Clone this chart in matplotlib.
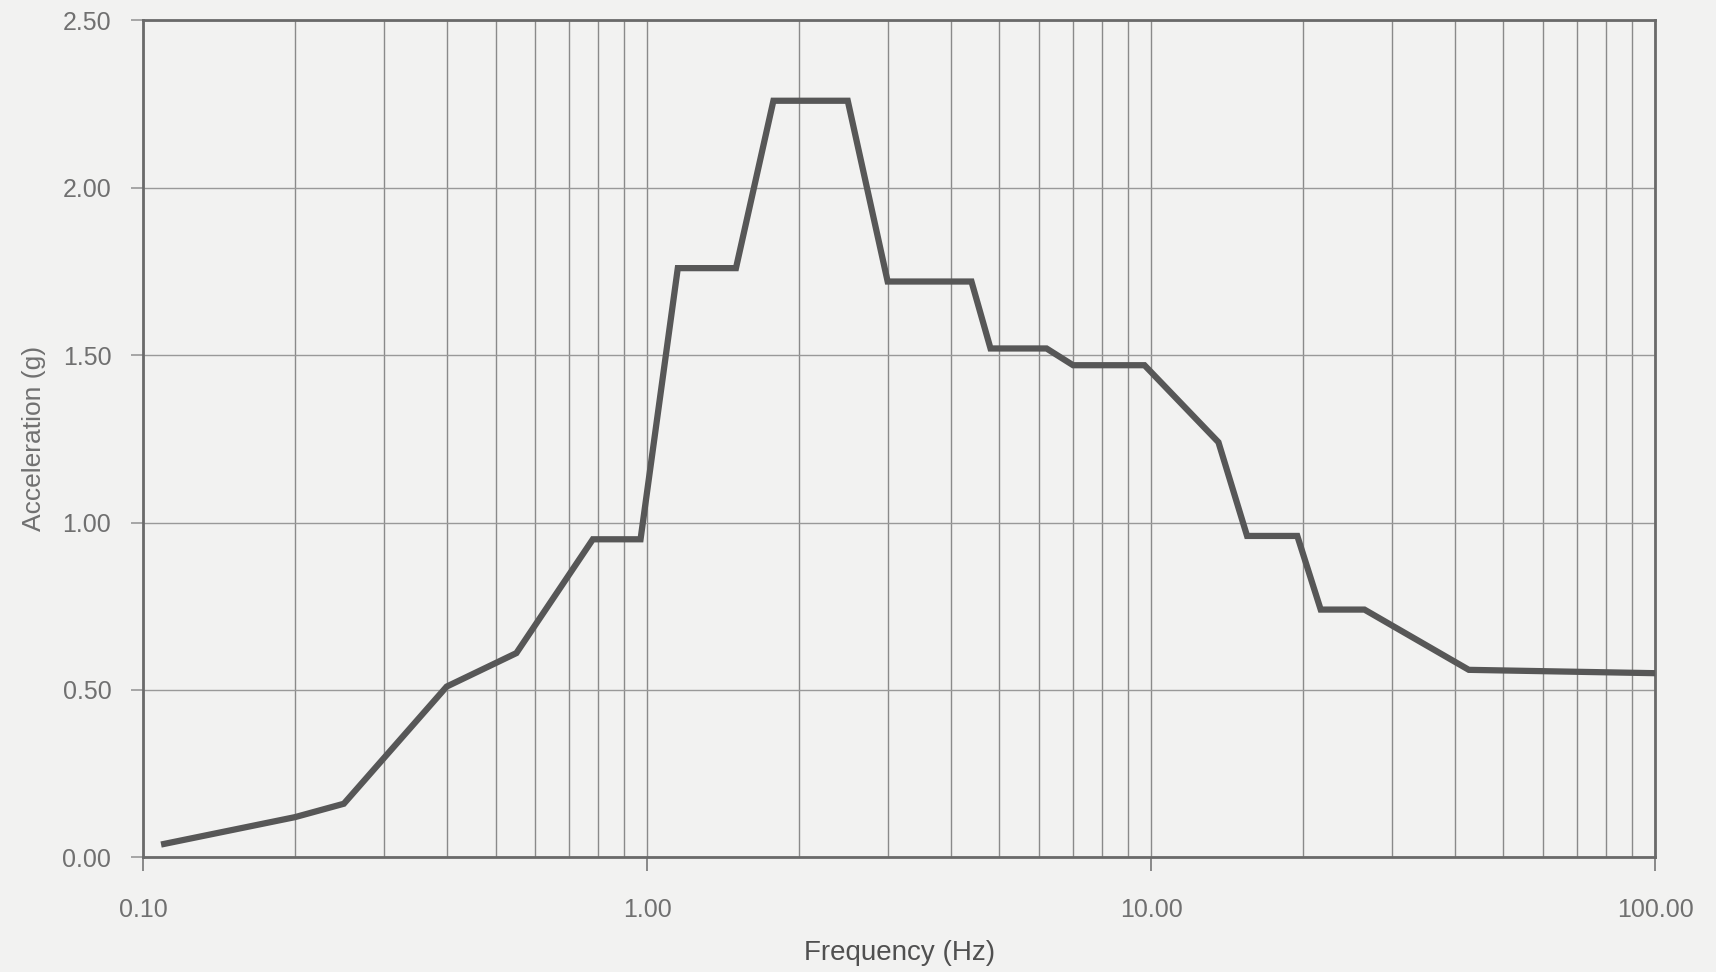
import matplotlib.pyplot as plt
from matplotlib.ticker import FixedLocator, NullFormatter

# spectrum breakpoints
freq = [0.11, 0.20, 0.25, 0.40, 0.55, 0.78, 0.97, 1.15, 1.50, 1.78, 2.50,
        3.00, 4.40, 4.80, 6.20, 7.00, 9.70, 13.6, 15.5, 19.5, 21.7, 26.5,
        42.7, 100.0]
accel = [0.04, 0.12, 0.16, 0.51, 0.61, 0.95, 0.95, 1.76, 1.76, 2.26, 2.26,
         1.72, 1.72, 1.52, 1.52, 1.47, 1.47, 1.24, 0.96, 0.96, 0.74, 0.74,
         0.56, 0.55]

x_major = [0.1, 1.0, 10.0, 100.0]
x_labels = ['0.10', '1.00', '10.00', '100.00']
y_major = [0.0, 0.5, 1.0, 1.5, 2.0, 2.5]
y_labels = ['0.00', '0.50', '1.00', '1.50', '2.00', '2.50']

bg = '#f2f2f1'
txt = '#707070'

plt.rcParams['font.family'] = ['Liberation Sans', 'DejaVu Sans']

fig = plt.figure(figsize=(17.16, 9.72), dpi=100, facecolor=bg)
ax = fig.add_axes([0.0835, 0.118, 0.881, 0.861], facecolor=bg)

ax.plot(freq, accel, color='#575757', lw=4.5, solid_joinstyle='miter', zorder=3)

ax.set_xscale('log')
ax.set_xlim(0.1, 100)
ax.set_ylim(0, 2.5)

# vertical grid on every 1..9 line of each decade
minors = [m * d for d in (0.1, 1, 10) for m in range(2, 10)]
ax.xaxis.set_major_locator(FixedLocator(x_major))
ax.xaxis.set_minor_locator(FixedLocator(minors))
ax.xaxis.set_minor_formatter(NullFormatter())
ax.set_xticklabels(x_labels)
ax.set_yticks(y_major)
ax.set_yticklabels(y_labels)

ax.grid(True, which='both', axis='x', color='#8a8a8a', lw=1.0)
ax.grid(True, which='major', axis='y', color='#999999', lw=1.0)

ax.tick_params(axis='x', which='major', length=10, width=1.2, color='#777777',
               pad=19, labelsize=18, labelcolor=txt, direction='out')
ax.tick_params(axis='x', which='minor', length=0)
ax.tick_params(axis='y', which='major', length=9, width=1.2, color='#999999',
               pad=14, labelsize=18, labelcolor=txt)

for s in ax.spines.values():
    s.set_color('#6a6a6a')
    s.set_linewidth(2.0)

ax.set_xlabel('Frequency (Hz)', fontsize=20, color='#505050', labelpad=13)
ax.set_ylabel('Acceleration (g)', fontsize=19, color=txt, labelpad=12)

fig.savefig('out.png', dpi=100, facecolor=bg)
